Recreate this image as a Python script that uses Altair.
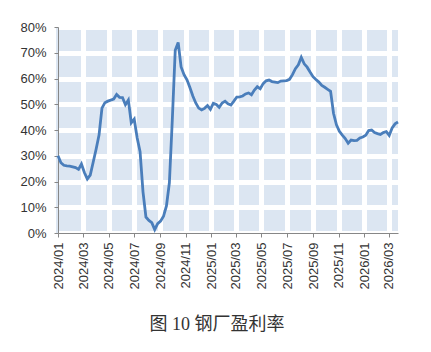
import altair as alt
import pandas as pd

start = "2024-01-05"
values = [
    30.0, 27.3, 26.3, 26.1, 26.0, 25.7, 25.4, 24.7, 26.8, 23.5,
    21.0, 22.5, 27.5, 32.5, 38.0, 48.5, 50.6, 51.2, 51.6, 52.0,
    53.8, 52.7, 52.6, 49.8, 51.6, 42.8, 44.2, 37.0, 31.6, 16.0,
    6.2, 4.9, 4.0, 1.3, 3.6, 4.6, 6.5, 10.5, 19.5, 44.0,
    71.0, 74.0, 64.5, 61.5, 59.5, 56.5, 53.2, 50.5, 48.5, 47.8,
    48.4, 49.5, 48.0, 50.4, 49.9, 48.8, 50.5, 51.2, 50.2, 49.7,
    51.2, 52.8, 52.9, 53.2, 54.0, 54.4, 53.7, 55.5, 56.8, 56.0,
    58.0, 59.1, 59.4, 58.8, 58.6, 58.4, 59.0, 59.1, 59.2, 59.7,
    61.5, 63.8, 65.3, 68.2, 65.7, 64.4, 62.5, 60.7, 59.6, 58.6,
    57.3, 56.6, 55.8, 55.0, 46.5, 42.0, 39.5, 38.0, 36.7, 34.9,
    36.1, 35.9, 36.0, 36.9, 37.3, 38.0, 39.8, 40.0, 39.0, 38.6,
    38.3, 39.0, 39.4, 37.9, 40.8, 42.4, 43.1,
]
dates = pd.date_range(start, periods=len(values), freq="7D")
tick_months = ["2024-01", "2024-03", "2024-05", "2024-07", "2024-09", "2024-11",
               "2025-01", "2025-03", "2025-05", "2025-07", "2025-09", "2025-11",
               "2026-01", "2026-03"]
title_text = "图 10 钢厂盈利率"

df = pd.DataFrame({"date": dates, "rate": values})

tick_vals = [alt.DateTime(year=int(m[:4]), month=int(m[5:]), date=5) for m in tick_months]

axis_common = dict(
    labelFont="Liberation Sans", labelFontSize=13, labelColor="#333333",
    domainColor="#878787", tickColor="#878787", tickSize=4,
    gridWidth=5, gridOpacity=1,
)

chart = alt.Chart(df).mark_line(color="#4a7ebb", strokeWidth=2.8).encode(
    x=alt.X("date:T",
            scale=alt.Scale(domain=[alt.DateTime(year=2024, month=1, date=5),
                                    alt.DateTime(year=2026, month=3, date=27)]),
            axis=alt.Axis(title=None, values=tick_vals, format="%Y/%m",
                          labelAngle=270, labelPadding=5,
                          gridColor=alt.condition("datum.value < datetime(2024, 0, 20)",
                                                  alt.value("#dce6f2"), alt.value("#ffffff")),
                          **axis_common)),
    y=alt.Y("rate:Q", scale=alt.Scale(domain=[0, 80], nice=False),
            axis=alt.Axis(title=None, values=[0, 10, 20, 30, 40, 50, 60, 70, 80],
                          labelExpr="datum.value + '%'", labelPadding=8,
                          gridColor="#ffffff", **axis_common)),
).properties(
    width=340, height=206,
    autosize=alt.AutoSizeParams(type="none"),
    padding={"left": 58, "top": 27, "right": 33, "bottom": 119},
    background="#ffffff",
    title=alt.TitleParams(title_text, orient="bottom", anchor="middle",
                          font="Liberation Serif, Noto Sans CJK SC",
                          fontSize=18, fontWeight="normal", color="#333333",
                          offset=27, dx=-11),
).configure_view(fill="#dce6f2", stroke=None)

chart.save("out.html", embed_options={"renderer": "svg", "actions": False})
